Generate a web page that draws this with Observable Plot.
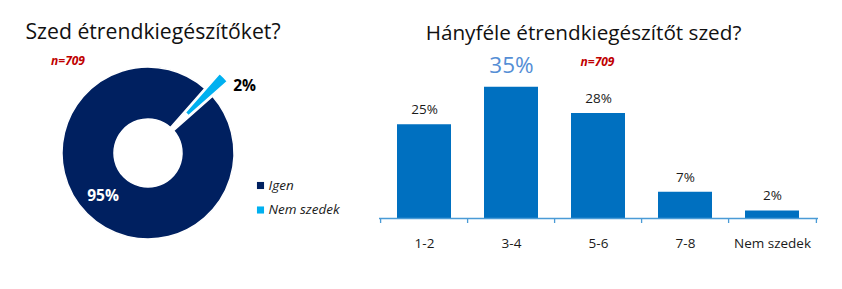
<!DOCTYPE html>
<html><head><meta charset="utf-8">
<script src="https://cdn.jsdelivr.net/npm/d3@7"></script>
<script src="https://cdn.jsdelivr.net/npm/@observablehq/plot@0.6"></script>
<style>
body{margin:0;background:#fff;}
#wrap{position:relative;width:842px;height:289px;overflow:hidden;font-family:"Open Sans",Lato,sans-serif;}
#left{position:absolute;left:0;top:0}
#right{position:absolute;left:370px;top:0}
svg{font-family:"Open Sans",Lato,sans-serif;overflow:visible}
</style></head><body>
<div id="wrap"><div id="left"></div><div id="right"></div></div>
<script>
// ---- data ----
const pieTitle = "Szed étrendkiegészítőket?";
const pieLabels = ["Igen", "Nem szedek"];
const pieValues = [95, 2];
const pieColors = ["#002060", "#00B0F0"];

const barTitle = "Hányféle étrendkiegészítőt szed?";
const barCategories = ["1-2", "3-4", "5-6", "7-8", "Nem szedek"];
const barValues = [25, 35, 28, 7, 2];
const sampleLabel = "n=709";

// ---- donut ----
const deg = Math.PI / 180;
const total = d3.sum(pieValues);
const startAngle = 45 * deg + (pieValues[1] / total) * Math.PI; // Nem szedek centred at 45°
const arcs = d3.pie().sort(null).startAngle(startAngle).endAngle(startAngle + 2 * Math.PI)(pieValues);
const rOuter = 86, rInner = 34, explode = 21;
const pieData = arcs.map((a, i) => ({label: pieLabels[i], value: pieValues[i], a0: a.startAngle, a1: a.endAngle, mid: (a.startAngle + a.endAngle) / 2}));

function donutMark(index, scales) {
  const {x, y} = scales;
  const cx = x(0), cy = y(0);
  const k = x(1) - x(0);
  const arc = d3.arc().innerRadius(rInner * k).outerRadius(rOuter * k);
  const g = d3.create("svg:g");
  pieData.forEach((d, i) => {
    const off = i === 1 ? explode * k : 0;
    g.append("path")
      .attr("d", arc({startAngle: d.a0, endAngle: d.a1}))
      .attr("fill", scales.color ? scales.color(d.label) : pieColors[i])
      .attr("stroke", "#fff").attr("stroke-width", 1.5)
      .attr("transform", `translate(${cx + off * Math.sin(d.mid)},${cy - off * Math.cos(d.mid)})`);
  });
  return g.node();
}

const left = Plot.plot({
  width: 370, height: 289,
  marginTop: 0, marginBottom: 0, marginLeft: 0, marginRight: 0,
  x: {domain: [-148, 222], range: [0, 370], axis: null},
  y: {domain: [-136, 153], range: [289, 0], axis: null},
  color: {domain: pieLabels, range: pieColors},
  marks: [
    donutMark,
    // inside label (centroid of Igen)
    Plot.text([pieData[0]], {
      x: d => Math.sin(d.mid) * (rInner + rOuter) / 2,
      y: d => Math.cos(d.mid) * (rInner + rOuter) / 2,
      text: d => d.value + "%", fill: "#fff", fontWeight: "bold", fontSize: 15.5, dx: -3
    }),
    // outside label (Nem szedek)
    Plot.text([pieData[1]], {
      x: d => Math.sin(d.mid) * (rOuter + explode),
      y: d => Math.cos(d.mid) * (rOuter + explode),
      text: d => d.value + "%", fill: "#000", fontWeight: "bold", fontSize: 15.5,
      textAnchor: "start", dx: 9, dy: 8
    }),
    // legend
    Plot.dot(pieLabels, {x: () => 112, y: (d, i) => -32 - i * 24.5, fill: d => d, symbol: "square", r: 4}),
    Plot.text(pieLabels, {x: () => 120, y: (d, i) => -32 - i * 24.5, text: d => d, textAnchor: "start",
      fontStyle: "italic", fontSize: 13.5, fill: "#1a1a1a"}),
    // titles
    Plot.text([pieTitle], {x: () => -123, y: () => 115, text: d => d, textAnchor: "start", lineAnchor: "bottom",
      fontSize: 21.2, fill: "#111"}),
    Plot.text([sampleLabel], {x: () => -80.5, y: () => 92.3, text: d => d, fill: "#C00000",
      fontWeight: "bold", fontStyle: "italic", fontSize: 12})
  ]
});
document.getElementById("left").append(left);

// ---- bars ----
const barData = barCategories.map((c, i) => ({cat: c, value: barValues[i]}));
const bandStep = 439 / 5;
const pxPerUnit = 131.25 / 35;

const right = Plot.plot({
  width: 472, height: 289,
  marginTop: 0, marginBottom: 0, marginLeft: 9, marginRight: 24,
  x: {type: "band", domain: barCategories, paddingInner: 0.375, paddingOuter: 0.1875, axis: null},
  y: {domain: [0, 35], range: [218, 86.75], axis: null},
  marks: [
    Plot.barY(barData, {x: "cat", y: "value", fill: "#0070C0"}),
    Plot.ruleY([0], {stroke: "#4a9bd6", strokeWidth: 1.3}),
    Plot.ruleX(barCategories, {x: d => d, y1: 0, y2: -5 / pxPerUnit, dx: -bandStep / 2, stroke: "#4a9bd6", strokeWidth: 1.3}),
    Plot.ruleX(barCategories.slice(-1), {x: d => d, y1: 0, y2: -5 / pxPerUnit, dx: bandStep / 2, stroke: "#4a9bd6", strokeWidth: 1.3}),
    Plot.text(barData.filter(d => d.value !== d3.max(barValues)), {x: "cat", y: "value", text: d => d.value + "%",
      dy: -15, fontSize: 13.5, fill: "#1a1a1a"}),
    Plot.text(barData.filter(d => d.value === d3.max(barValues)), {x: "cat", y: "value", text: d => d.value + "%",
      dy: -21, fontSize: 22.5, fill: "#558ED5"}),
    Plot.text(barCategories, {x: d => d, y: () => 0, text: d => d, dy: 25, fontSize: 13.5, fill: "#1a1a1a"}),
    Plot.text([barTitle], {frameAnchor: "top", dx: -15.5, dy: 39, lineAnchor: "bottom", text: d => d, fontSize: 20.7, fill: "#111"}),
    Plot.text([sampleLabel], {frameAnchor: "top", dx: -1.5, dy: 57, text: d => d, fill: "#C00000",
      fontWeight: "bold", fontStyle: "italic", fontSize: 12})
  ]
});
document.getElementById("right").append(right);
</script>
</body></html>
